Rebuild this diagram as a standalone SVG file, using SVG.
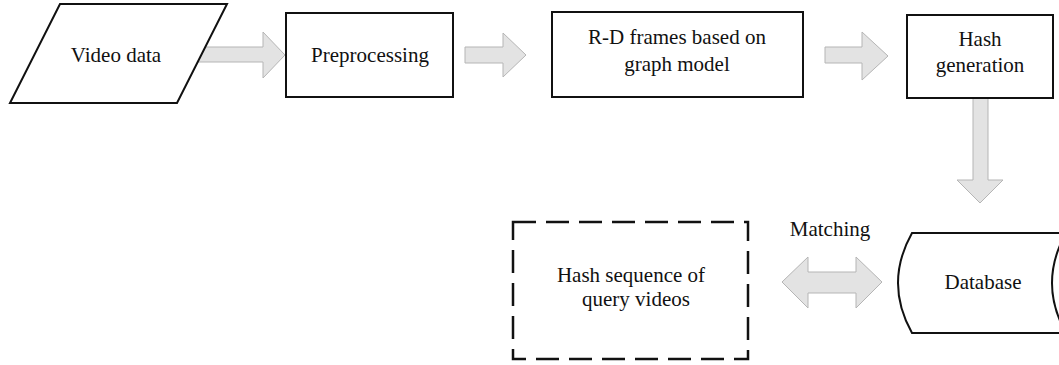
<svg xmlns="http://www.w3.org/2000/svg" width="1059" height="365" viewBox="0 0 1059 365">
<style>
.node{fill:#fff;stroke:#111;stroke-width:2}
.dash{fill:#fff;stroke:#111;stroke-width:2.5;stroke-dasharray:23 10}
.arr{fill:#e3e3e3;stroke:#b5b5b5;stroke-width:1}
text{font-family:"Liberation Serif","Times New Roman",serif;font-size:21px;fill:#111;text-anchor:middle}
</style>
<rect width="1059" height="365" fill="#fff"/>
<g id="connectors">
<path class="arr" d="M198,47 H263 V32 L285,55 L263,78 V62 H198 Z"/>
<path class="arr" d="M465,47 H503 V33 L526,55 L503,77 V63 H465 Z"/>
<path class="arr" d="M825,47 H862 V32 L888,56 L862,80 V63 H825 Z"/>
<path class="arr" d="M973,98 H988 V180 H1003 L980,203 L957,180 H973 Z"/>
<path class="arr" d="M782,282 L808,257 V272 H856 V257 L882,282 L856,308 V293 H808 V308 Z"/>
<text x="830" y="236">Matching</text>
</g>
<g id="video-data">
<polygon class="node" points="60,4 227,4 177,103 10,103"/>
<text x="116" y="62">Video data</text>
</g>
<g id="preprocessing">
<rect class="node" x="286" y="13" width="167" height="84"/>
<text x="370" y="62">Preprocessing</text>
</g>
<g id="rd-frames">
<rect class="node" x="552" y="12" width="251" height="85"/>
<text x="677" y="44">R-D frames based on</text>
<text x="677" y="71">graph model</text>
</g>
<g id="hash-generation">
<rect class="node" x="907" y="15" width="146" height="83"/>
<text x="980" y="46">Hash</text>
<text x="980" y="72">generation</text>
</g>
<g id="database">
<path class="node" d="M912,233 H1066 Q1038,283 1066,333 H912 Q884,283 912,233 Z"/>
<text x="983" y="289">Database</text>
</g>
<g id="query-hash">
<rect class="dash" x="513" y="222" width="235" height="137"/>
<text x="631" y="282">Hash sequence of</text>
<text x="636" y="306">query videos</text>
</g>
</svg>
